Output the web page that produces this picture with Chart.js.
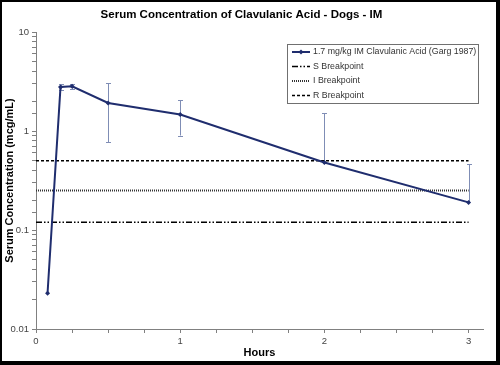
<!DOCTYPE html>
<html><head><meta charset="utf-8">
<script src="https://cdn.jsdelivr.net/npm/chart.js@4.4.1/dist/chart.umd.min.js"></script>
<style>html,body{margin:0;padding:0;background:#fff}canvas{display:block}</style>
</head><body>
<canvas id="c" width="500" height="365"></canvas>
<script>
// ---- data ----
const hours = [0.08, 0.17, 0.25, 0.5, 1, 2, 3];
const concentration = [0.023, 2.78, 2.83, 1.92, 1.47, 0.48, 0.19];
const errHigh = [null, 2.95, 2.98, 3.05, 2.05, 1.52, 0.46];
const errLow = [null, 2.62, 2.64, 0.77, 0.9, null, null];
const breakpointHours = [0, 3];
const sBreakpoint = 0.12;
const iBreakpoint = 0.25;
const rBreakpoint = 0.5;
const xTickLabels = [0, 1, 2, 3];
const yTickLabels = [0.01, 0.1, 1, 10];
const seriesLabels = ['1.7 mg/kg IM Clavulanic Acid (Garg 1987)', 'S Breakpoint', 'I Breakpoint', 'R Breakpoint'];
const chartTitle = 'Serum Concentration of Clavulanic Acid - Dogs - IM';
const xTitle = 'Hours';
const yTitle = 'Serum Concentration (mcg/mL)';

// ---- styles ----
const NAVY = '#1f2d6e';
const ERR = '#7f8db5';
const FONT = "'Liberation Sans', Arial, sans-serif";
const dashS = [6, 2, 1.5, 2, 1.5, 2];
const dashI = [1, 1];
const dashR = [3, 2];

const mainData = hours.map((h, i) => ({x: h, y: concentration[i]}));
const bp = v => breakpointHours.map(h => ({x: h, y: v}));

const framePlugin = {
  id: 'frame',
  beforeDraw(chart) {
    const ctx = chart.ctx;
    ctx.save();
    ctx.fillStyle = '#000';
    ctx.fillRect(0, 0, chart.width, chart.height);
    ctx.fillStyle = '#fff';
    ctx.fillRect(2, 2, chart.width - 6, chart.height - 6);
    ctx.restore();
  }
};

const errorBarPlugin = {
  id: 'errbars',
  beforeDatasetsDraw(chart) {
    const ctx = chart.ctx, xs = chart.scales.x, ys = chart.scales.y;
    ctx.save();
    ctx.strokeStyle = ERR;
    ctx.lineWidth = 1;
    hours.forEach((h, i) => {
      const x = Math.round(xs.getPixelForValue(h)) + 0.5;
      const yc = ys.getPixelForValue(concentration[i]);
      const hi = errHigh[i] != null ? ys.getPixelForValue(errHigh[i]) : null;
      const lo = errLow[i] != null ? ys.getPixelForValue(errLow[i]) : null;
      if (hi == null && lo == null) return;
      const top = hi != null ? hi : yc;
      const bot = lo != null ? lo : yc;
      ctx.beginPath();
      ctx.moveTo(x, top); ctx.lineTo(x, bot);
      if (hi != null) { ctx.moveTo(x - 2.5, Math.round(hi) + 0.5); ctx.lineTo(x + 2.5, Math.round(hi) + 0.5); }
      if (lo != null) { ctx.moveTo(x - 2.5, Math.round(lo) + 0.5); ctx.lineTo(x + 2.5, Math.round(lo) + 0.5); }
      ctx.stroke();
    });
    ctx.restore();
  }
};

const legendPlugin = {
  id: 'boxlegend',
  afterDraw(chart) {
    const ctx = chart.ctx, a = chart.chartArea;
    const w = 191, h = 59;
    const left = a.right - 5 - w, top = a.top + 12;
    ctx.save();
    ctx.fillStyle = '#fff';
    ctx.fillRect(left, top, w, h);
    ctx.strokeStyle = '#707070';
    ctx.lineWidth = 1;
    ctx.strokeRect(left + 0.5, top + 0.5, w, h);
    const styles = [
      {color: NAVY, dash: [], width: 2, marker: true},
      {color: '#000', dash: dashS, width: 1.5},
      {color: '#333', dash: dashI, width: 2},
      {color: '#000', dash: dashR, width: 1.5}
    ];
    ctx.font = '8.8px ' + FONT;
    ctx.textBaseline = 'middle';
    seriesLabels.forEach((lab, i) => {
      const y = top + 8 + i * 14.5;
      const s = styles[i];
      ctx.strokeStyle = s.color;
      ctx.lineWidth = s.width;
      ctx.setLineDash(s.dash);
      ctx.beginPath();
      ctx.moveTo(left + 5, y); ctx.lineTo(left + 23, y);
      ctx.stroke();
      ctx.setLineDash([]);
      if (s.marker) {
        ctx.fillStyle = NAVY;
        ctx.beginPath();
        ctx.moveTo(left + 14, y - 2.5); ctx.lineTo(left + 16.5, y);
        ctx.lineTo(left + 14, y + 2.5); ctx.lineTo(left + 11.5, y);
        ctx.closePath(); ctx.fill();
      }
      ctx.fillStyle = '#333';
      ctx.fillText(lab, left + 26, y);
    });
    ctx.restore();
  }
};

new Chart(document.getElementById('c'), {
  type: 'line',
  data: {
    datasets: [
      {label: seriesLabels[0], data: mainData, borderColor: NAVY, backgroundColor: NAVY,
       borderWidth: 2, pointStyle: 'rectRot', pointRadius: 2.5, pointBorderWidth: 0, tension: 0},
      {label: seriesLabels[1], data: bp(sBreakpoint), borderColor: '#000', borderWidth: 1.5,
       borderDash: dashS, pointRadius: 0},
      {label: seriesLabels[2], data: bp(iBreakpoint), borderColor: '#333', borderWidth: 2,
       borderDash: dashI, pointRadius: 0},
      {label: seriesLabels[3], data: bp(rBreakpoint), borderColor: '#000', borderWidth: 1.5,
       borderDash: dashR, pointRadius: 0}
    ]
  },
  options: {
    responsive: false,
    devicePixelRatio: 1,
    animation: false,
    layout: {padding: {top: 2, left: 0, right: 17, bottom: 0}},
    plugins: {
      legend: {display: false},
      tooltip: {enabled: false},
      title: {display: true, text: chartTitle, color: '#000',
        font: {family: FONT, size: 11.5, weight: 'bold'}, padding: {top: 6.3, bottom: 9.9}}
    },
    scales: {
      x: {
        type: 'linear', min: 0, max: 3.1,
        border: {color: '#808080', width: 1},
        grid: {drawOnChartArea: false, drawTicks: true, tickLength: 4, color: '#808080'},
        ticks: {stepSize: 0.25, includeBounds: false, autoSkip: false, maxRotation: 0, padding: 3,
          color: '#444', font: {family: FONT, size: 9.5},
          callback: v => xTickLabels.includes(v) ? String(v) : ''},
        title: {display: true, text: xTitle, color: '#000', padding: {top: 0, bottom: 5},
          font: {family: FONT, size: 11, weight: 'bold'}},
        afterFit: s => { s.height = 36; }
      },
      y: {
        type: 'logarithmic', min: 0.01, max: 10,
        border: {color: '#808080', width: 1},
        grid: {drawOnChartArea: false, drawTicks: true, tickLength: 4, color: '#808080'},
        ticks: {autoSkip: false, padding: 3, color: '#444', font: {family: FONT, size: 9.5},
          callback: v => yTickLabels.some(t => Math.abs(t - v) < t * 1e-6) ? String(v) : ''},
        title: {display: true, text: yTitle, color: '#000', padding: {top: 3, bottom: 0},
          font: {family: FONT, size: 11, weight: 'bold'}},
        afterFit: s => { s.width = 36; }
      }
    }
  },
  plugins: [framePlugin, errorBarPlugin, legendPlugin]
});
</script>
</body></html>
